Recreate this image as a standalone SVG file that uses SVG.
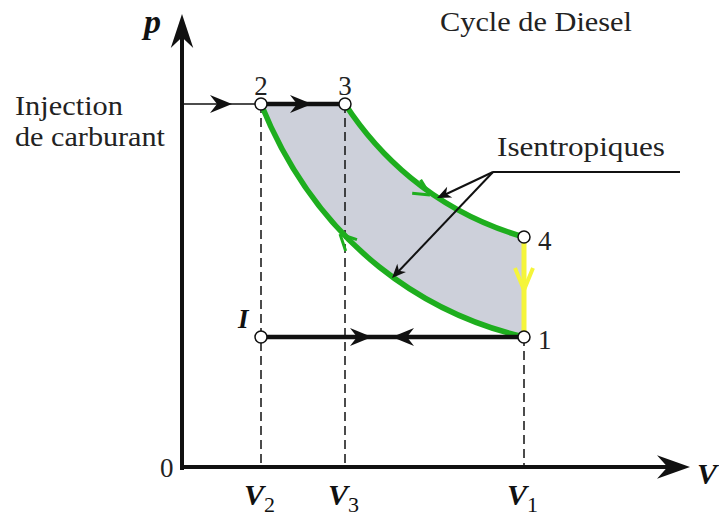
<svg xmlns="http://www.w3.org/2000/svg" width="719" height="517" viewBox="0 0 719 517" font-family="Liberation Serif, serif">
<style>
.t{font-size:27px;fill:#222}
.bi{font-weight:bold;font-style:italic;fill:#111}
.dash{stroke:#111;stroke-width:1.5;stroke-dasharray:9 5;fill:none}
.green{stroke:#1eae1e;stroke-width:5.5;fill:none;stroke-linecap:round}
.pt{fill:#fff;stroke:#111;stroke-width:1.5}
.thin{stroke:#111;stroke-width:2;fill:none}
</style>
<defs>
<path id="ah" d="M0,0 L-22,-9 L-15,0 L-22,9 Z" fill="#111"/>
<path id="ahs" d="M0,0 L-14,-6 L-10,0 L-14,6 Z" fill="#111"/>
<path id="gh" d="M0,0 L-16,-8 M0,0 L-16,8" stroke="#1eae1e" stroke-width="3" fill="none"/>
</defs>
<rect width="719" height="517" fill="#fff"/>
<g id="region">
<path d="M261,104 L345,104 C375,150 430,210 524,237 L524,337 C430,315 320,250 261,104 Z" fill="#cdd0da"/>
</g>
<g id="connectors">
<line class="dash" x1="261" y1="104" x2="261" y2="467"/>
<line class="dash" x1="345" y1="104" x2="345" y2="467"/>
<line class="dash" x1="524" y1="337" x2="524" y2="467"/>
<line x1="182" y1="104" x2="255" y2="104" stroke="#111" stroke-width="1.6"/>
<use href="#ah" transform="translate(232,104)"/>
<line x1="261" y1="104" x2="345" y2="104" stroke="#111" stroke-width="4.5"/>
<use href="#ah" transform="translate(312,104)"/>
<path class="green" d="M345,104 C375,150 430,210 524,237"/>
<use href="#gh" transform="translate(430,195) rotate(32)"/>
<path class="green" d="M524,337 C430,315 320,250 261,104"/>
<use href="#gh" transform="translate(340,234) rotate(-135)"/>
<line x1="524" y1="243" x2="524" y2="331" stroke="#f5f53a" stroke-width="5"/>
<path d="M524,290 L515,268 M524,290 L533,268" stroke="#f5f53a" stroke-width="4" fill="none"/>
<line x1="261" y1="337" x2="524" y2="337" stroke="#111" stroke-width="4.5"/>
<use href="#ah" transform="translate(372,337)"/>
<use href="#ah" transform="translate(392,337) rotate(180)"/>
<line x1="182" y1="470" x2="182" y2="22" stroke="#111" stroke-width="4"/>
<use href="#ah" transform="translate(182,14) rotate(-90) scale(1.55,1.25)"/>
<line x1="180" y1="467" x2="680" y2="467" stroke="#111" stroke-width="4"/>
<use href="#ah" transform="translate(690,467) scale(1.5,1.3)"/>
<line class="thin" x1="493" y1="172" x2="680" y2="172"/>
<line class="thin" x1="493" y1="172" x2="440" y2="197"/>
<use href="#ahs" transform="translate(437,198) rotate(155)"/>
<line class="thin" x1="493" y1="172" x2="396" y2="274"/>
<use href="#ahs" transform="translate(392,278) rotate(133.5)"/>
</g>
<g id="node-2"><circle class="pt" cx="261" cy="104" r="6"/><text class="t" x="261" y="95" text-anchor="middle">2</text></g>
<g id="node-3"><circle class="pt" cx="345" cy="104" r="6"/><text class="t" x="345" y="95" text-anchor="middle">3</text></g>
<g id="node-4"><circle class="pt" cx="524" cy="237" r="6"/><text class="t" x="538" y="250">4</text></g>
<g id="node-1"><circle class="pt" cx="524" cy="337" r="6"/><text class="t" x="538" y="349">1</text></g>
<g id="node-I"><circle class="pt" cx="261" cy="337" r="6"/><text class="bi" x="238" y="328" font-size="27">I</text></g>
<g id="labels">
<text class="t" x="440" y="31" textLength="192" lengthAdjust="spacingAndGlyphs">Cycle de Diesel</text>
<text class="t" x="497" y="156" textLength="168" lengthAdjust="spacingAndGlyphs">Isentropiques</text>
<text class="t" x="15" y="115" textLength="108" lengthAdjust="spacingAndGlyphs">Injection</text>
<text class="t" x="15" y="146" textLength="150" lengthAdjust="spacingAndGlyphs">de carburant</text>
<text class="bi" x="144" y="33" font-size="34">p</text>
<text class="t" x="160" y="477">0</text>
<text class="bi" x="697" y="484" font-size="30">V</text>
<text class="bi" x="244" y="505" font-size="30">V<tspan font-weight="normal" font-style="normal" font-size="22" dy="7">2</tspan></text>
<text class="bi" x="328" y="505" font-size="30">V<tspan font-weight="normal" font-style="normal" font-size="22" dy="7">3</tspan></text>
<text class="bi" x="507" y="505" font-size="30">V<tspan font-weight="normal" font-style="normal" font-size="22" dy="7">1</tspan></text>
</g>
</svg>
